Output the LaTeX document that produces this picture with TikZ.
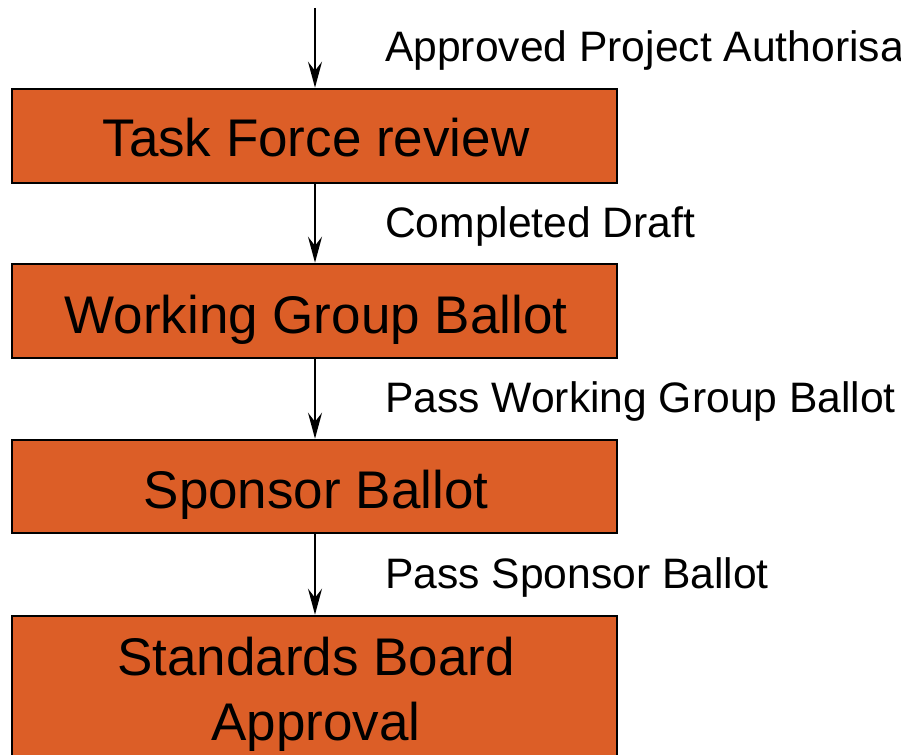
\documentclass[tikz,border=0pt]{standalone}
\usepackage{fontspec}
\setmainfont{Liberation Sans}
\usetikzlibrary{arrows.meta}
\definecolor{boxorange}{HTML}{DC5E27}
\begin{document}
\begin{tikzpicture}[x=1pt,y=-1pt,
  stepbox/.style={draw=black, line width=2.6pt, fill=boxorange, minimum width=605pt, inner sep=0pt},
  boxtext/.style={anchor=base, inner sep=0pt, font=\fontsize{53}{65}\selectfont, align=center},
  flow/.style={line width=1.8pt, -{Stealth[length=26pt,width=14pt,inset=9pt]}},
  lbl/.style={anchor=base west, inner sep=0pt, font=\fontsize{42.6}{50}\selectfont}]
\useasboundingbox (0,0) rectangle (901,754);
\clip (0,0) rectangle (901,754);
\node[stepbox, minimum height=94pt] (b1) at (314.5,136) {};
\node[boxtext] (t1) at (316,157) {Task Force review};
\node[stepbox, minimum height=94pt] (b2) at (314.5,311) {};
\node[boxtext] (t2) at (316,333) {Working Group Ballot};
\node[stepbox, minimum height=93pt] (b3) at (314.5,486.5) {};
\node[boxtext] (t3) at (316,508) {Sponsor Ballot};
\node[stepbox, minimum height=150pt] (b4) at (314.5,691) {};
\node[boxtext] (t4a) at (316,675) {Standards Board};
\node[boxtext] (t4b) at (316,740) {Approval};
\coordinate (top) at (315,8);
\draw[flow] (top) -- (b1.north -| top);
\draw[flow] (b1.south -| top) -- (b2.north -| top);
\draw[flow] (b2.south -| top) -- (b3.north -| top);
\draw[flow] (b3.south -| top) -- (b4.north -| top);
\node[lbl] (l1) at (385,62) {Approved Project Authorisation};
\node[lbl] (l2) at (385,237) {Completed Draft};
\node[lbl] (l3) at (385,412) {Pass Working Group Ballot};
\node[lbl] (l4) at (385,588) {Pass Sponsor Ballot};
\end{tikzpicture}
\end{document}
